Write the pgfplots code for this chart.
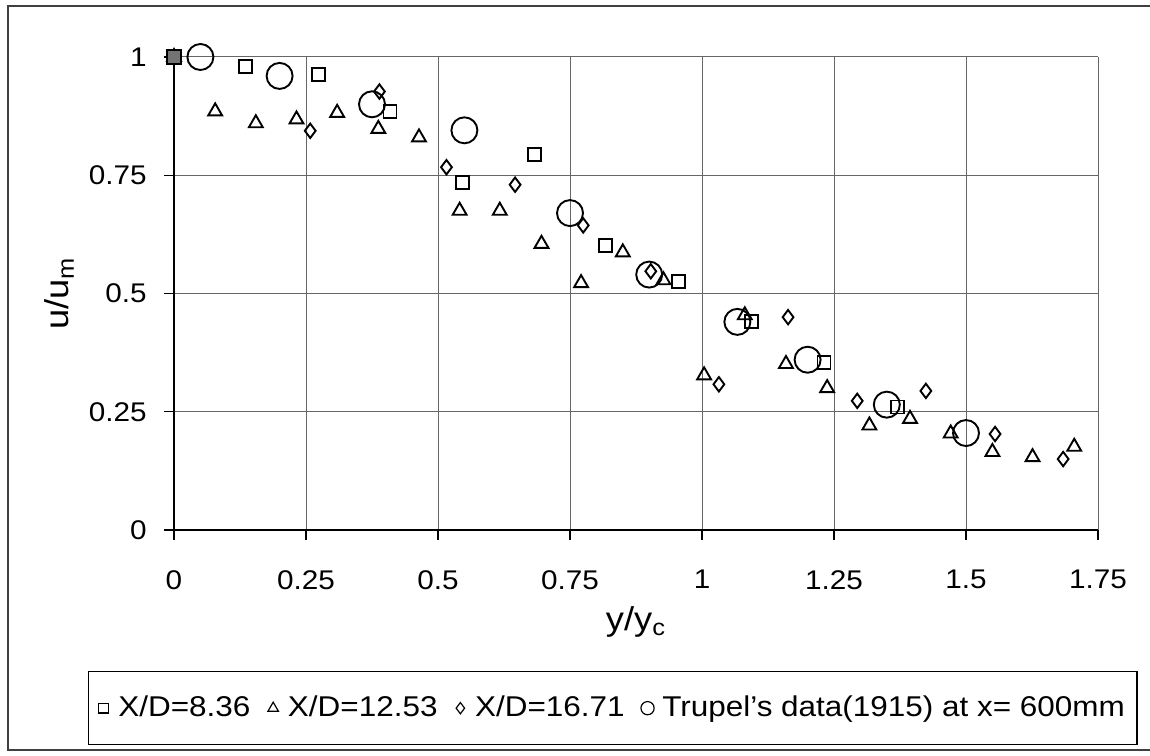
\documentclass[border=0pt]{standalone}
\usepackage{fontspec}
\setmainfont[FakeStretch=1.1]{Liberation Sans}
\usepackage{pgfplots}
\pgfplotsset{compat=1.18}

\begin{document}
\begin{tikzpicture}
\fontsize{15}{18}\selectfont
% page frame
\path[use as bounding box] (0,0) rectangle (575pt,377.5pt);
\draw[black!75, line width=0.6pt] (576pt,374.5pt) -- (4pt,374.5pt) -- (4pt,2.5pt) -- (576pt,2.5pt);
\begin{axis}[
  at={(87pt,112.5pt)}, anchor=south west,
  scale only axis, width=462pt, height=236.5pt,
  xmin=0, xmax=1.75, ymin=0, ymax=1,
  xtick={0,0.25,...,1.75}, ytick={0,0.25,0.5,0.75,1},
  xticklabels={0,0.25,0.5,0.75,1,1.25,1.5,1.75},
  yticklabels={0,0.25,0.5,0.75,1},
  axis x line*=bottom, axis y line*=left,
  axis line style={black, line width=0.8pt, -},
  grid=major, major grid style={black!60, line width=0.5pt},
  tick align=outside, major tick length=5pt,
  tick style={black, line width=0.6pt},
  tick label style={font=\fontsize{13.5}{16}\selectfont},
  xticklabel shift=10pt, yticklabel shift=3.5pt,
  /pgf/number format/assume math mode=true,
  clip=false,
  xlabel={y/y\textsubscript{c}},
  ylabel={u/u\textsubscript{m}},
  label style={font=\fontsize{16.5}{19}\selectfont},
  xlabel style={at={(axis description cs:0.5,-0.195)}, anchor=center},
  ylabel style={at={(axis description cs:-0.124,0.5)}, anchor=center},
  legend columns=4,
  legend style={at={(axis description cs:-0.093,-0.298)}, anchor=north west,
    draw=black, line width=0.6pt, inner xsep=4pt, inner ysep=10pt,
    font=\fontsize{14.3}{17}\selectfont,
    /tikz/every even column/.append style={column sep=6pt}},
  legend image code/.code={\draw[#1] plot coordinates {(0.12cm,0cm)};
    \path[draw=none] (0,0) -- (0.31cm,0);},
  legend cell align=left,
]
% X/D = 8.36
\addplot[only marks, mark=square, mark size=3.25pt, black, line width=0.95pt,
  legend image post style={mark size=2.4pt, line width=0.6pt}]
  coordinates {(0,1) (0.136,0.98) (0.273,0.963) (0.409,0.885) (0.546,0.734)
    (0.682,0.794) (0.818,0.602) (0.955,0.526) (1.094,0.441) (1.231,0.355) (1.370,0.260)};
\addlegendentry{X/D=8.36}
% X/D = 12.53
\addplot[only marks, mark=triangle, mark size=4pt, black, line width=0.95pt,
  legend image post style={mark size=3pt, line width=0.6pt}]
  coordinates {(0,1) (0.078,0.885) (0.155,0.86) (0.232,0.868) (0.309,0.882)
    (0.387,0.848) (0.464,0.83) (0.541,0.675) (0.617,0.675) (0.696,0.605)
    (0.771,0.522) (0.850,0.587) (0.927,0.528) (1.004,0.327) (1.081,0.454)
    (1.159,0.351) (1.237,0.300) (1.317,0.221) (1.394,0.235) (1.471,0.204)
    (1.550,0.165) (1.626,0.154) (1.705,0.176)};
\addlegendentry{X/D=12.53}
% X/D = 16.71
\addplot[only marks, mark=diamond, mark size=3.6pt, black, line width=0.95pt,
  legend image post style={mark size=2.8pt, line width=0.6pt}]
  coordinates {(0,1) (0.258,0.844) (0.389,0.927) (0.516,0.767) (0.646,0.730)
    (0.775,0.644) (0.903,0.547) (1.032,0.308) (1.163,0.450) (1.294,0.273)
    (1.424,0.294) (1.555,0.203) (1.684,0.150)};
\addlegendentry{X/D=16.71}
% Trupel (1915), x = 600 mm
\addplot[only marks, mark=o, mark size=6.5pt, black, line width=0.95pt,
  legend image post style={mark size=3.3pt, line width=0.6pt}]
  coordinates {(0.05,1) (0.2,0.96) (0.375,0.9) (0.55,0.845) (0.75,0.67)
    (0.9,0.54) (1.067,0.44) (1.2,0.36) (1.35,0.265) (1.5,0.205)};
\addlegendentry{Trupel's data(1915) at x= 600mm}
% the three series coincide at the origin of the profile
\addplot[only marks, mark=square*, mark size=3.5pt, draw=black, fill=black!55,
  line width=0.8pt, forget plot] coordinates {(0,1)};
\end{axis}
\end{tikzpicture}
\end{document}
